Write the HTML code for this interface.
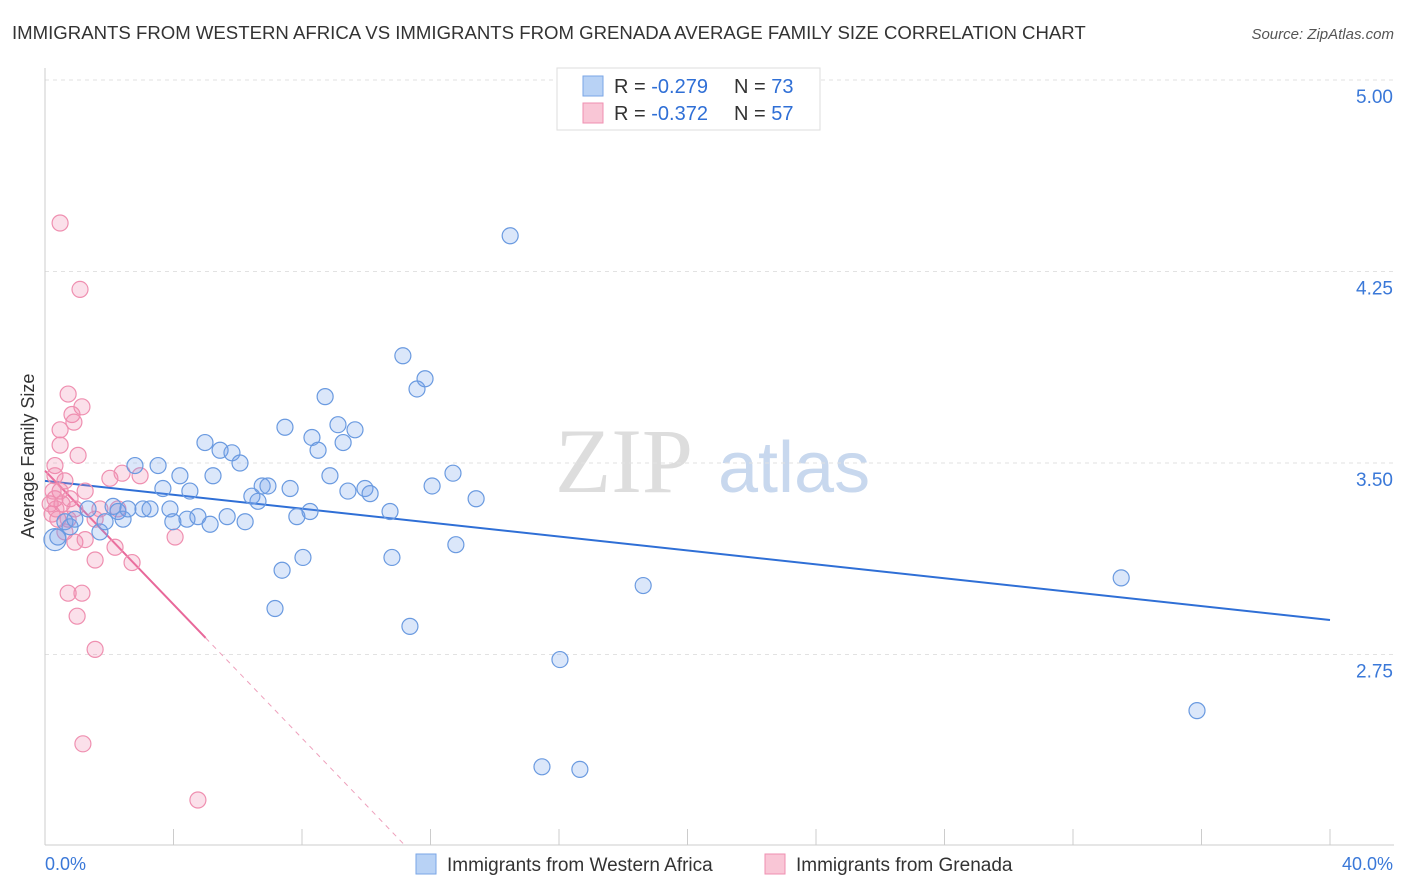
<!DOCTYPE html>
<html><head><meta charset="utf-8"><style>
body{margin:0;background:#fff;font-family:"Liberation Sans",sans-serif;}
svg{display:block}
</style></head><body>
<svg id="chart" width="1406" height="892">
<text x="12" y="39" font-size="18.6" fill="#333">IMMIGRANTS FROM WESTERN AFRICA VS IMMIGRANTS FROM GRENADA AVERAGE FAMILY SIZE CORRELATION CHART</text>
<text x="1394" y="39" font-size="15" fill="#555" font-style="italic" text-anchor="end">Source: ZipAtlas.com</text>
<text x="34" y="456" font-size="18" fill="#333" text-anchor="middle" transform="rotate(-90 34 456)">Average Family Size</text>
<g><text x="555" y="492" font-size="92" fill="#ddd" font-family="Liberation Serif,serif">ZIP</text><text x="718" y="492" font-size="72" fill="#c8d8ee">atlas</text></g>
<g id="grid"></g><g id="axes"></g><g id="trends"></g><g id="pts"></g>
<g>
<rect x="557" y="68" width="263" height="62" fill="#fff" stroke="#ddd"/>
<rect x="583" y="76" width="20" height="20" fill="#b8d2f5" stroke="#7aa6e6"/>
<text x="614" y="93" font-size="20" fill="#333">R = <tspan fill="#2f6fd6">-0.279</tspan></text>
<text x="734" y="93" font-size="20" fill="#333">N = <tspan fill="#2f6fd6">73</tspan></text>
<rect x="583" y="103" width="20" height="20" fill="#f9c6d6" stroke="#ef8fb0"/>
<text x="614" y="120" font-size="20" fill="#333">R = <tspan fill="#2f6fd6">-0.372</tspan></text>
<text x="734" y="120" font-size="20" fill="#333">N = <tspan fill="#2f6fd6">57</tspan></text>
</g>
<g>
<rect x="416" y="854" width="20" height="20" fill="#b8d2f5" stroke="#7aa6e6"/>
<text x="447" y="871" font-size="19" fill="#333">Immigrants from Western Africa</text>
<rect x="765" y="854" width="20" height="20" fill="#f9c6d6" stroke="#ef8fb0"/>
<text x="796" y="871" font-size="19" fill="#333">Immigrants from Grenada</text>
</g>
<text x="45" y="870" font-size="18" fill="#3a78d8">0.0%</text>
<text x="1393" y="870" font-size="18" fill="#3a78d8" text-anchor="end">40.0%</text>
</svg>
<script>
const yTicks=[5.00,4.25,3.50,2.75];
const blueX=[0.31,0.40,0.62,0.78,0.93,1.34,1.71,1.87,2.12,2.27,2.43,2.58,2.80,3.05,3.27,3.52,3.67,3.89,3.98,4.20,4.42,4.51,4.76,4.98,5.14,5.23,5.45,5.67,5.82,6.07,6.23,6.44,6.63,6.76,6.94,7.16,7.38,7.47,7.63,7.84,8.03,8.25,8.31,8.50,8.72,8.87,9.12,9.28,9.43,9.65,9.96,10.12,10.74,10.80,11.14,11.36,11.58,11.83,12.05,12.70,12.79,13.42,14.48,15.47,16.03,16.65,18.62,33.50,35.86];
const blueY=[3.20,3.21,3.27,3.25,3.28,3.32,3.23,3.27,3.33,3.31,3.28,3.32,3.49,3.32,3.32,3.49,3.40,3.32,3.27,3.45,3.28,3.39,3.29,3.58,3.26,3.45,3.55,3.29,3.54,3.50,3.27,3.37,3.35,3.41,3.41,2.93,3.08,3.64,3.40,3.29,3.13,3.31,3.60,3.55,3.76,3.45,3.65,3.58,3.39,3.63,3.40,3.38,3.31,3.13,3.92,2.86,3.79,3.83,3.41,3.46,3.18,3.36,4.39,2.31,2.73,2.30,3.02,3.05,2.53];
const pinkX=[0.47,1.09,0.72,1.15,0.84,0.90,0.47,0.47,1.03,0.31,0.31,0.62,0.47,0.31,0.78,0.53,0.22,0.93,1.25,2.02,2.40,2.96,2.27,1.56,0.62,0.93,1.25,2.18,1.56,2.71,0.72,1.15,1.00,1.56,1.18,4.76,4.05,0.40,0.16,0.25,0.34,0.72,1.71];
const pinkY=[4.44,4.18,3.77,3.72,3.69,3.66,3.63,3.57,3.53,3.49,3.45,3.43,3.39,3.36,3.36,3.34,3.30,3.32,3.39,3.44,3.46,3.45,3.32,3.28,3.23,3.19,3.20,3.17,3.12,3.11,2.99,2.99,2.90,2.77,2.40,2.18,3.21,3.28,3.34,3.39,3.32,3.28,3.32];
const blueTrend=[3.43,2.885];
const pinkTrend=[3.47,-0.131];
const NS='http://www.w3.org/2000/svg';
const xs=v=>45+v/40*1285;
const ys=v=>463-(v-3.5)*255.3;
function mk(p,t,a){const e=document.createElementNS(NS,t);for(const k in a)e.setAttribute(k,a[k]);p.appendChild(e);return e;}
const grid=document.getElementById('grid'),axes=document.getElementById('axes');
yTicks.forEach(t=>{
 const l=mk(grid,'line',{x1:45,x2:1394,y1:ys(t),y2:ys(t),stroke:'#e2e2e2','stroke-dasharray':'4 4'});
 
 
 const tx=mk(axes,'text',{x:1393,y:ys(t)+23,'font-size':19,fill:'#3a78d8','text-anchor':'end'});
 tx.textContent=t.toFixed(2);
 
 
});
const al=mk(axes,'line',{x1:45,x2:45,y1:68,y2:845,stroke:'#ccc'});


const bl=mk(axes,'line',{x1:45,x2:1394,y1:845,y2:845,stroke:'#ccc'});


for(let i=0;i<=10;i++){const t=mk(axes,'line',{x1:xs(i*4),x2:xs(i*4),y1:829,y2:845,stroke:'#ccc'});
 
 }
const pts=document.getElementById('pts');
pinkX.forEach((x,i)=>{const c=mk(pts,'circle',{cx:xs(x),cy:ys(pinkY[i]),r:8,fill:'rgba(240,130,170,0.25)',stroke:'#ef8fb0','stroke-width':1.2});
 
 });
blueX.forEach((x,i)=>{const c=mk(pts,'circle',{cx:xs(x),cy:ys(blueY[i]),r:i==0?11:8,fill:'rgba(110,160,235,0.25)',stroke:'#6a9ae0','stroke-width':1.2});
 
 });
const tr=document.getElementById('trends');
const b=mk(tr,'line',{x1:xs(0),y1:ys(blueTrend[0]),x2:xs(40),y2:ys(blueTrend[1]),stroke:'#2f6fd6','stroke-width':2});


const pe=5.0,pd=(pinkTrend[0]-2.004)/-pinkTrend[1];
const p1=mk(tr,'line',{x1:xs(0),y1:ys(pinkTrend[0]),x2:xs(pe),y2:ys(pinkTrend[0]+pinkTrend[1]*pe),stroke:'#e8689a','stroke-width':2});


const p2=mk(tr,'line',{x1:xs(pe),y1:ys(pinkTrend[0]+pinkTrend[1]*pe),x2:xs(pd),y2:ys(pinkTrend[0]+pinkTrend[1]*pd),stroke:'#eea0bc','stroke-width':1,'stroke-dasharray':'5 5'});


</script>
</body></html>
